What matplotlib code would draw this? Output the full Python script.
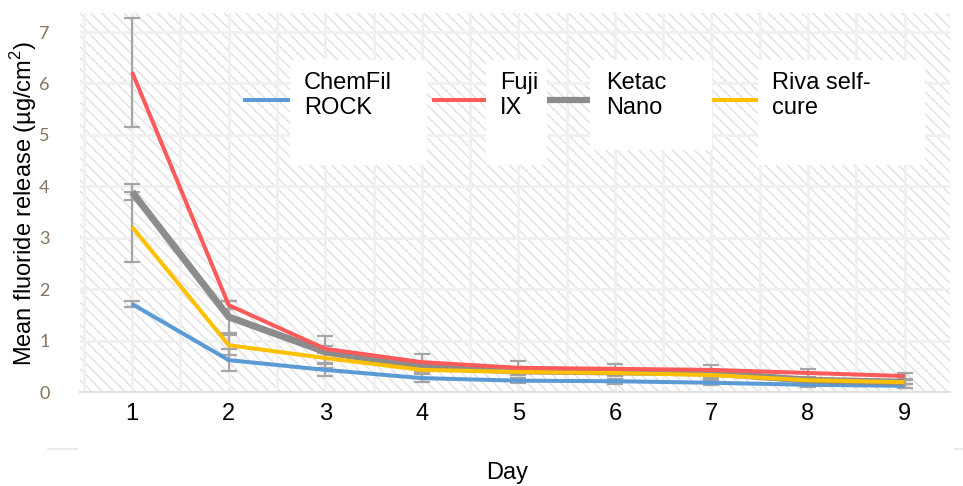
import matplotlib
matplotlib.use("Agg")
import matplotlib as mpl
import matplotlib.pyplot as plt
from matplotlib.patches import Rectangle
from matplotlib.lines import Line2D

days = [1, 2, 3, 4, 5, 6, 7, 8, 9]
series_names = ["ChemFil\nROCK", "Fuji\nIX", "Ketac\nNano", "Riva self-\ncure"]
chemfil = [1.71, 0.62, 0.43, 0.27, 0.22, 0.21, 0.18, 0.14, 0.12]
fuji = [6.22, 1.69, 0.84, 0.58, 0.47, 0.45, 0.43, 0.37, 0.31]
ketac = [3.89, 1.46, 0.78, 0.49, 0.41, 0.39, 0.37, 0.23, 0.19]
riva = [3.21, 0.91, 0.66, 0.43, 0.39, 0.37, 0.33, 0.23, 0.19]
chemfil_err = [0.05, 0.22, 0.12, 0.08, 0.05, 0.05, 0.05, 0.04, 0.04]
fuji_err = [1.06, 0.08, 0.05, 0.16, 0.13, 0.09, 0.09, 0.08, 0.06]
ketac_err = [0.15, 0.31, 0.31, 0.08, 0.06, 0.05, 0.05, 0.04, 0.04]
riva_err = [0.68, 0.20, 0.10, 0.06, 0.05, 0.05, 0.05, 0.04, 0.04]
y_ticks = [0, 1, 2, 3, 4, 5, 6, 7]

colors = ["#5b9bd5", "#ff5a5a", "#8c8c8c", "#ffc000"]
widths = [2.9, 2.9, 5.0, 2.9]

W, H = 963, 486
mpl.rcParams["hatch.linewidth"] = 0.9
mpl.rcParams["font.family"] = ["Liberation Sans", "DejaVu Sans"]
mpl.rcParams["mathtext.fontset"] = "custom"
mpl.rcParams["mathtext.rm"] = "Liberation Sans"

fig = plt.figure(figsize=(W / 100, H / 100), dpi=100)
ax = fig.add_axes([80 / W, (H - 392) / H, 870 / W, 379 / H])
ax.patch.set_alpha(0)

bg = Rectangle((0, 0), 1, 1, transform=ax.transAxes, facecolor="white",
               edgecolor="#dedede", linewidth=0, hatch="\\\\\\", zorder=0.1)
ax.add_patch(bg)

ax.set_xlim(0.46, 9.47)
ax.set_ylim(0, 7.37)
ax.set_xticks(days)
ax.set_xticks([d + 0.5 for d in [0] + days[:-1]], minor=True)
ax.set_yticks(y_ticks)
ax.set_axisbelow(True)
ax.grid(which="both", color="#f0f0f0", linewidth=2.0)

for s in ["top", "right", "left"]:
    ax.spines[s].set_visible(False)
ax.spines["bottom"].set_color("#e0e0e0")
ax.spines["bottom"].set_linewidth(1.5)

ax.tick_params(axis="both", which="both", length=0)
ax.tick_params(axis="x", pad=8, labelsize=17, labelcolor="black")
ax.tick_params(axis="y", pad=22, labelsize=13, labelcolor="#86725e")
for lab in ax.get_yticklabels():
    lab.set_family(["Lato", "DejaVu Sans"])

data = [chemfil, fuji, ketac, riva]
errs = [chemfil_err, fuji_err, ketac_err, riva_err]
for vals, e in zip(data, errs):
    ax.errorbar(days, vals, yerr=e, fmt="none", ecolor="#a6a6a6",
                elinewidth=1.6, capsize=6, capthick=1.6, zorder=2)

order = [0, 2, 3, 1]
for i in order:
    ax.plot(days, data[i], color=colors[i], linewidth=widths[i],
            solid_capstyle="butt", zorder=3 + order.index(i))

# Legend (manual, mimicking the reference layout)
leg = [
    (245, 290, 290, 427, 165, 304),
    (434, 484, 486, 547, 165, 500),
    (549, 590, 590, 712, 150, 606),
    (714, 758, 758, 925, 165, 772),
]
for i, (lx0, lx1, bx0, bx1, by1, tx) in enumerate(leg):
    fig.add_artist(Line2D([lx0 / W, lx1 / W], [1 - 100 / H, 1 - 100 / H],
                          color=colors[i], linewidth=widths[i] if i != 2 else 4.5,
                          transform=fig.transFigure, zorder=5))
    fig.add_artist(Rectangle((bx0 / W, 1 - by1 / H), (bx1 - bx0) / W, (by1 - 60) / H,
                             transform=fig.transFigure, facecolor="white",
                             edgecolor="none", zorder=6))
    fig.text(tx / W, 1 - 72 / H, series_names[i], ha="left", va="top",
             fontsize=17, color="black", linespacing=1.2, zorder=7)

fig.text(24 / W, 1 - 203 / H, "Mean fluoride release (µg/cm$^2$)", rotation=90,
         ha="center", va="center", fontsize=17)
fig.text(507 / W, 1 - 473 / H, "Day", ha="center", va="center", fontsize=17)

fig.add_artist(Line2D([48 / W, 77 / W], [1 - 449 / H] * 2, color="#e6e6e6",
                      linewidth=1.2, transform=fig.transFigure))
fig.add_artist(Line2D([955 / W, 963 / W], [1 - 449 / H] * 2, color="#e6e6e6",
                      linewidth=1.2, transform=fig.transFigure))

fig.savefig("out.png", dpi=100)
